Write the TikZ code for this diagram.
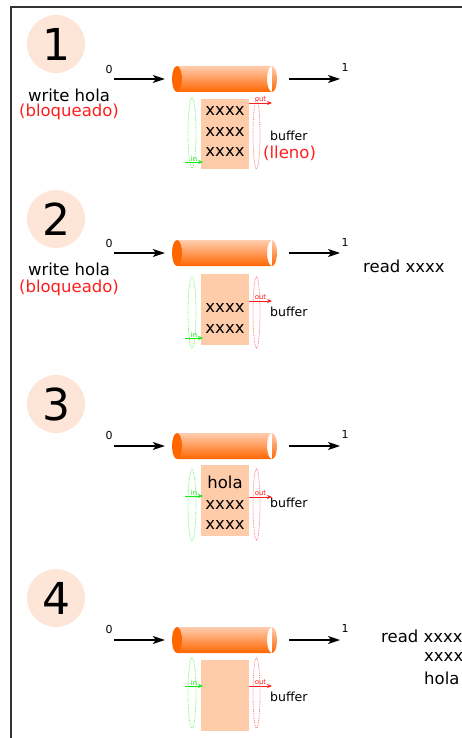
\documentclass[tikz,border=0pt]{standalone}
\usepackage{fontspec}
\setmainfont{DejaVu Sans}
\usetikzlibrary{arrows.meta,positioning}
\definecolor{peach}{RGB}{253,229,216}
\definecolor{bufcol}{RGB}{255,204,170}
\definecolor{pipedark}{RGB}{255,102,0}
\definecolor{pipemid}{RGB}{255,140,70}
\definecolor{pipelight}{RGB}{255,206,176}
\definecolor{warn}{RGB}{255,30,30}
\definecolor{ingreen}{RGB}{20,235,20}

\begin{document}
\begin{tikzpicture}[x=1pt,y=-1pt,
                    every node/.style={inner sep=0pt},
                    num/.style={circle,fill=peach,minimum size=58pt,font=\fontsize{44}{44}\selectfont},
                    txt/.style={font=\fontsize{16.5}{20}\selectfont},
                    cell/.style={align=center,font=\fontsize{16.5}{20.5}\selectfont},
                    small/.style={font=\fontsize{12.5}{14}\selectfont,anchor=west},
                    port/.style={font=\fontsize{11}{12}\selectfont},
                    tiny/.style={font=\fontsize{7}{8}\selectfont},
                    pipe/.style={top color=pipelight,middle color=pipemid,bottom color=pipedark},
                    pipebox/.style={minimum width=105pt,minimum height=26pt},
                    buf/.style={fill=bufcol,minimum width=48pt},
                    flow/.style={line width=1.2pt,-{Stealth[length=12pt,width=8pt,inset=3pt]}},
                    inring/.style={draw=ingreen!60,densely dotted,line width=0.8pt},
                    outring/.style={draw=warn!60,densely dotted,line width=0.8pt},
                    inarr/.style={ingreen,line width=0.9pt,-{Stealth[length=5pt,width=4pt]}},
                    outarr/.style={warn,line width=0.9pt,-{Stealth[length=5pt,width=4pt]}},
                    frame/.style={draw=black!80,line width=1.2pt}]
  \useasboundingbox (0,0) rectangle (462,738);
  \draw[frame] (470,7) -- (11,7) -- (11,745);
  % 1
  \node[num] (n1) at (56,44) {1};
  \node[port] (z1) at (109,69) {0};
  \node[port] (u1) at (345,67) {1};
  \coordinate (w1) at (114,79);
  \coordinate (r1) at (340,79);
  \shade[pipe] (177,66) rectangle (272,92) (272,79) ellipse (5 and 13);
  \fill[pipedark] (177,79) ellipse (5 and 13);
  \node[pipebox] (p1) at (224.5,79) {};
  \draw[flow,shorten >=7pt] (w1) -- (p1);
  \draw[flow,shorten <=12pt] (p1) -- (r1);
  \node[txt] (wr1) at (69,95) {write hola};
  \node[txt,warn] (bl1) at (69,112) {(bloqueado)};
  \node[buf,minimum height=70pt] (b1) at (225,134) {};
  \node[cell] (c1) at (225,131.5) {xxxx\\xxxx\\xxxx};
  \draw[inring] (192,133) ellipse (4 and 35);
  \draw[outring] (256.5,134.5) ellipse (3.5 and 34.5);
  \draw[outarr] (249,103) -- node[tiny,above=0.5pt]{out} (272,103);
  \draw[inarr] (185,162) -- node[tiny,above=0.5pt]{in} (203,162);
  \node[small] (l1) at (270,136) {buffer};
  \node[txt,warn,anchor=west] (f1) at (263,153) {(lleno)};
  % 2
  \node[num] (n2) at (56,219) {2};
  \node[port] (z2) at (109,243) {0};
  \node[port] (u2) at (345,242) {1};
  \coordinate (w2) at (114,253);
  \coordinate (r2) at (340,253);
  \shade[pipe] (177,240) rectangle (272,266) (272,253) ellipse (5 and 13);
  \fill[pipedark] (177,253) ellipse (5 and 13);
  \node[pipebox] (p2) at (224.5,253) {};
  \draw[flow,shorten >=7pt] (w2) -- (p2);
  \draw[flow,shorten <=12pt] (p2) -- (r2);
  \node[txt] (wr2) at (69,269) {write hola};
  \node[txt,warn] (bl2) at (69,288) {(bloqueado)};
  \node[txt,anchor=west] (rd2) at (363,266) {read xxxx};
  \node[buf,minimum height=71pt] (b2) at (225,309.5) {};
  \node[cell] (c2) at (225,318.5) {xxxx\\xxxx};
  \draw[inring] (192,312.5) ellipse (4 and 35.5);
  \draw[outring] (256.5,312.5) ellipse (3.5 and 35.5);
  \draw[outarr] (249,301) -- node[tiny,above=0.5pt]{out} (272,301);
  \draw[inarr] (185,338) -- node[tiny,above=0.5pt]{in} (203,338);
  \node[small] (l2) at (270,312) {buffer};
  % 3
  \node[num] (n3) at (56,404) {3};
  \node[port] (z3) at (109,435) {0};
  \node[port] (u3) at (345,434) {1};
  \coordinate (w3) at (114,446);
  \coordinate (r3) at (340,446);
  \shade[pipe] (177,433) rectangle (272,459) (272,446) ellipse (5 and 13);
  \fill[pipedark] (177,446) ellipse (5 and 13);
  \node[pipebox] (p3) at (224.5,446) {};
  \draw[flow,shorten >=7pt] (w3) -- (p3);
  \draw[flow,shorten <=12pt] (p3) -- (r3);
  \node[buf,minimum height=71pt] (b3) at (225,500.5) {};
  \node[cell] (c3) at (225,503) {hola\\xxxx\\xxxx};
  \draw[inring] (192,505) ellipse (4 and 35.5);
  \draw[outring] (256.5,504.5) ellipse (3.5 and 35.5);
  \draw[outarr] (249,497) -- node[tiny,above=0.5pt]{out} (272,497);
  \draw[inarr] (185,496) -- node[tiny,above=0.5pt]{in} (203,496);
  \node[small] (l3) at (270,503) {buffer};
  % 4
  \node[num] (n4) at (56,598) {4};
  \node[port] (z4) at (109,629) {0};
  \node[port] (u4) at (345,628) {1};
  \coordinate (w4) at (114,640);
  \coordinate (r4) at (340,640);
  \shade[pipe] (177,627) rectangle (272,653) (272,640) ellipse (5 and 13);
  \fill[pipedark] (177,640) ellipse (5 and 13);
  \node[pipebox] (p4) at (224.5,640) {};
  \draw[flow,shorten >=7pt] (w4) -- (p4);
  \draw[flow,shorten <=12pt] (p4) -- (r4);
  \node[txt,anchor=west] (rd4) at (381,636) {read xxxx};
  \node[txt,anchor=west] (rx4) at (424,657) {xxxx};
  \node[txt,anchor=west] (rh4) at (424,678) {hola};
  \node[buf,minimum height=71pt] (b4) at (225,695.5) {};
  \draw[inring] (192,693) ellipse (4 and 35);
  \draw[outring] (256.5,693) ellipse (3.5 and 35);
  \draw[outarr] (249,686) -- node[tiny,above=0.5pt]{out} (272,686);
  \draw[inarr] (185,686) -- node[tiny,above=0.5pt]{in} (203,686);
  \node[small] (l4) at (270,697) {buffer};
\end{tikzpicture}
\end{document}
